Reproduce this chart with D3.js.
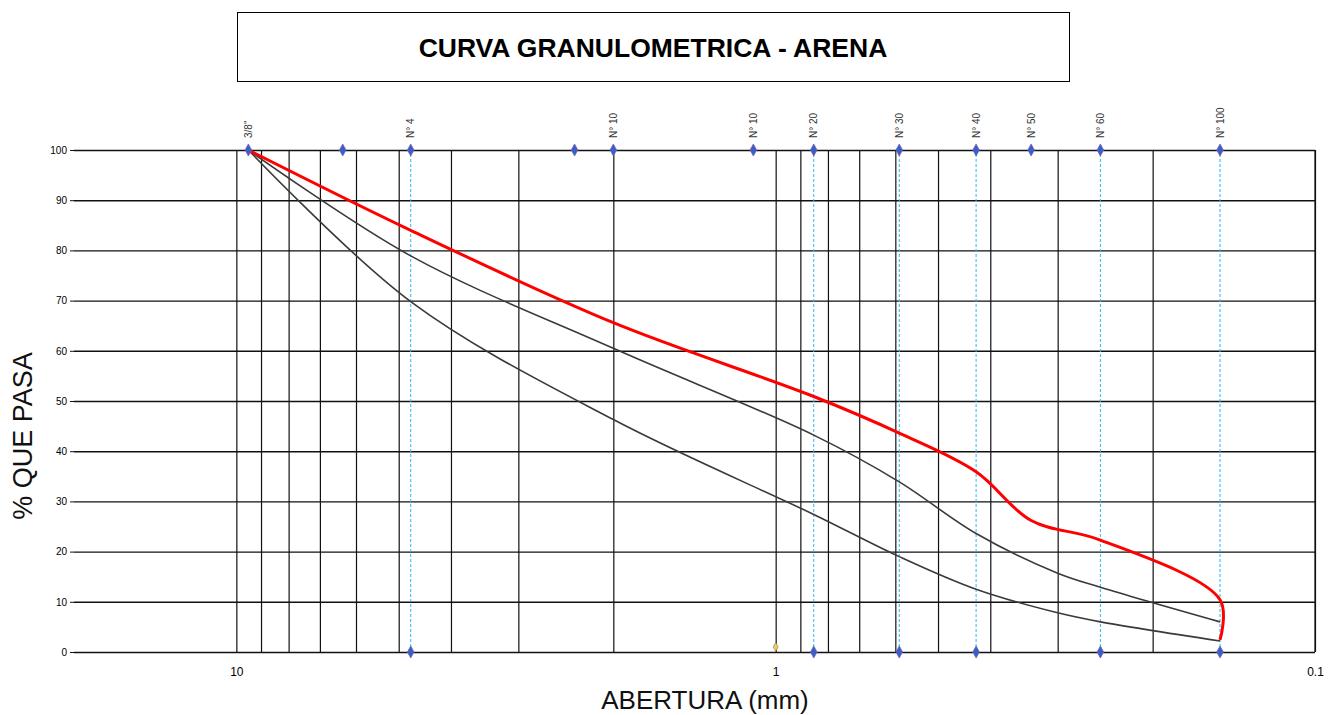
<!DOCTYPE html>
<html>
<head>
<meta charset="utf-8">
<script src="https://cdn.jsdelivr.net/npm/d3@7"></script>
<style>
  body { margin: 0; background: #fff; }
  text { font-family: "Liberation Sans", Arial, sans-serif; }
</style>
</head>
<body>
<svg></svg>
<script>

var title = "CURVA GRANULOMETRICA - ARENA";
var xTitle = "ABERTURA (mm)";
var yTitle = "% QUE PASA";

// sieve labels on top
var sieveLabels = ['3/8"', "N° 4", "N° 10", "N° 10", "N° 20", "N° 30", "N° 40", "N° 50", "N° 60", "N° 100"];
var sieveSizes  = [9.5, 4.75, 2.0, 1.1, 0.85, 0.59, 0.425, 0.336, 0.25, 0.15];

// markers at 100 % and at 0 %
var topMarks    = [9.5, 6.35, 4.75, 2.36, 2.0, 1.1, 0.85, 0.59, 0.425, 0.336, 0.25, 0.15];
var bottomMarks = [4.75, 0.85, 0.59, 0.425, 0.25, 0.15];
var extraMark   = [1.0, 1];

// curves (abertura mm, % que pasa)
var curveSizes = [9.5, 4.75, 2.0, 0.85, 0.59, 0.425, 0.3, 0.25, 0.15];
var upperLimit = [100, 78.9, 60.5, 43.2, 33.9, 23.6, 15.7, 12.9, 6.0];
var lowerLimit = [100, 69.8, 46.3, 27.4, 19.0, 12.5, 7.8, 6.0, 2.2];
var sandSizes  = [9.5, 4.75, 2.0, 0.85, 0.59, 0.425, 0.336, 0.25, 0.15, 0.15];
var sand       = [100, 84.0, 65.6, 50.9, 43.6, 35.9, 26.2, 22.3, 10.4, 2.4];

var xTicks = [10, 1, 0.1];
var xGrid = [10, 9, 8, 7, 6, 5, 4, 3, 2, 1, 0.9, 0.8, 0.7, 0.6, 0.5, 0.4, 0.3, 0.2, 0.1];
var yTicks = [0, 10, 20, 30, 40, 50, 60, 70, 80, 90, 100];

var width = 1336, height = 715;
var mLeft = 74, mRight = 1315, mTop = 150, mBottom = 652;

var svg = d3.select("svg")
    .attr("width", width)
    .attr("height", height);

var x = d3.scaleLog().domain([20, 0.1]).range([mLeft, mRight]);
var y = d3.scaleLinear().domain([0, 100]).range([mBottom, mTop]);

// title box
svg.append("rect")
    .attr("x", 237.5).attr("y", 12.5)
    .attr("width", 832).attr("height", 69)
    .attr("fill", "white")
    .attr("stroke", "black");

svg.append("text")
    .attr("x", 653).attr("y", 57)
    .attr("text-anchor", "middle")
    .style("font-size", "26.5px")
    .style("font-weight", "bold")
    .text(title);

// vertical grid
svg.append("g")
    .attr("transform", "translate(0," + mBottom + ")")
    .call(d3.axisBottom(x).tickValues(xGrid).tickSize(-(mBottom - mTop)).tickFormat(""))
    .call(function(g) {
        g.select(".domain").remove();
        g.selectAll("line").attr("stroke", "#111").attr("stroke-width", 1.2);
    });

// horizontal grid
svg.append("g")
    .attr("transform", "translate(" + mLeft + ",0)")
    .call(d3.axisLeft(y).tickValues(yTicks).tickSize(-(mRight - mLeft)).tickFormat(""))
    .call(function(g) {
        g.select(".domain").remove();
        g.selectAll("line").attr("stroke", "#111").attr("stroke-width", 1.4);
    });

// y labels
svg.append("g")
    .attr("transform", "translate(" + mLeft + ",0)")
    .call(d3.axisLeft(y).tickValues(yTicks).tickSize(4).tickPadding(3))
    .call(function(g) {
        g.select(".domain").remove();
        g.selectAll("line").attr("stroke", "#111");
        g.selectAll("text")
            .style("font-family", "'Liberation Sans Narrow', 'Arial Narrow', sans-serif")
            .style("font-size", "10px")
            .attr("fill", "#000");
    });

// x labels
svg.append("g")
    .attr("transform", "translate(0," + mBottom + ")")
    .call(d3.axisBottom(x).tickValues(xTicks).tickSize(0).tickPadding(15)
        .tickFormat(function(d) { return d; }))
    .call(function(g) {
        g.select(".domain").remove();
        g.selectAll("text")
            .style("font-family", "'Liberation Sans Narrow', 'Arial Narrow', sans-serif")
            .style("font-size", "12px")
            .attr("fill", "#000");
    });

// right border
svg.append("line")
    .attr("x1", x(0.1)).attr("x2", x(0.1))
    .attr("y1", y(0)).attr("y2", y(100))
    .attr("stroke", "#111").attr("stroke-width", 1.2);

// dashed sieve lines
svg.selectAll(".sieve")
    .data(bottomMarks)
    .enter().append("line")
    .attr("class", "sieve")
    .attr("x1", function(d) { return x(d); })
    .attr("x2", function(d) { return x(d); })
    .attr("y1", y(0)).attr("y2", y(100))
    .attr("stroke", "#2bb8f0")
    .attr("stroke-width", 1)
    .attr("stroke-dasharray", "3,2");

// curves
var line = d3.line()
    .x(function(d) { return x(d[0]); })
    .y(function(d) { return y(d[1]); })
    .curve(d3.curveCatmullRom.alpha(0.5));

svg.append("path")
    .datum(d3.zip(curveSizes, lowerLimit))
    .attr("d", line)
    .attr("fill", "none")
    .attr("stroke", "#3a3a3a")
    .attr("stroke-width", 1.6);

svg.append("path")
    .datum(d3.zip(curveSizes, upperLimit))
    .attr("d", line)
    .attr("fill", "none")
    .attr("stroke", "#3a3a3a")
    .attr("stroke-width", 1.6);

svg.append("path")
    .datum(d3.zip(sandSizes, sand))
    .attr("d", line)
    .attr("fill", "none")
    .attr("stroke", "#ff0000")
    .attr("stroke-width", 3);

// diamonds
var diamond = d3.symbol().type(d3.symbolDiamond).size(42);

svg.selectAll(".topmark")
    .data(topMarks)
    .enter().append("path")
    .attr("class", "topmark")
    .attr("d", diamond)
    .attr("transform", function(d) { return "translate(" + x(d) + "," + y(100) + ") scale(0.95,1)"; })
    .attr("fill", "#3560c8")
    .attr("stroke", "#7b5fb5")
    .attr("stroke-width", 0.8);

svg.selectAll(".botmark")
    .data(bottomMarks)
    .enter().append("path")
    .attr("class", "botmark")
    .attr("d", diamond)
    .attr("transform", function(d) { return "translate(" + x(d) + "," + y(0) + ") scale(0.95,1)"; })
    .attr("fill", "#3560c8")
    .attr("stroke", "#7b5fb5")
    .attr("stroke-width", 0.8);

svg.append("path")
    .attr("d", d3.symbol().type(d3.symbolDiamond).size(22))
    .attr("transform", "translate(" + x(extraMark[0]) + "," + y(extraMark[1]) + ")")
    .attr("fill", "#e8d060")
    .attr("stroke", "#8a7a40")
    .attr("stroke-width", 0.6);

// sieve labels
svg.selectAll(".slabel")
    .data(sieveSizes)
    .enter().append("text")
    .attr("class", "slabel")
    .attr("transform", function(d) { return "translate(" + (x(d) + 3.5) + ",138) rotate(-90)"; })
    .style("font-size", "10px")
    .attr("fill", "#333")
    .text(function(d, i) { return sieveLabels[i]; });

// axis titles
svg.append("text")
    .attr("x", 705).attr("y", 709)
    .attr("text-anchor", "middle")
    .style("font-size", "26px")
    .attr("fill", "#111")
    .text(xTitle);

svg.append("text")
    .attr("transform", "translate(32,436) rotate(-90)")
    .attr("text-anchor", "middle")
    .style("font-size", "27px")
    .attr("fill", "#111")
    .text(yTitle);

</script>
</body>
</html>
